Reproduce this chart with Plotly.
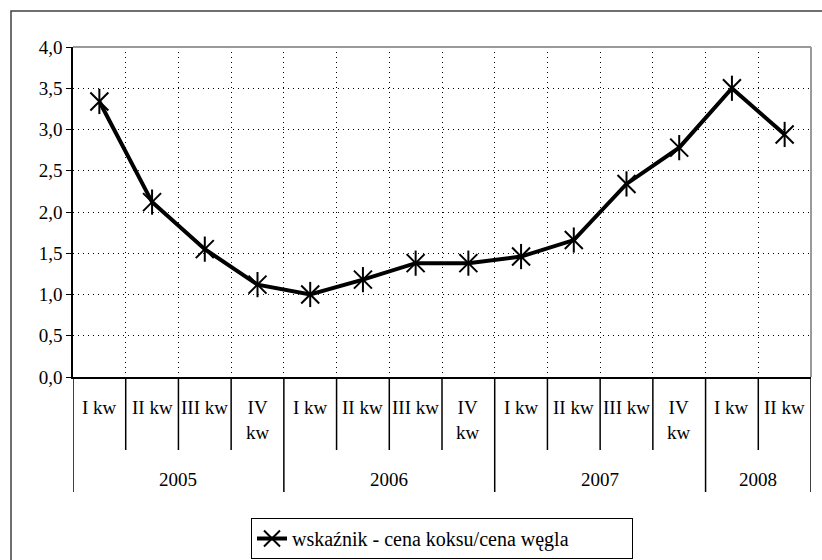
import plotly.graph_objects as go

# dane
years = ["2005", "2006", "2007", "2008"]
quarters_per_year = [4, 4, 4, 2]
quarters = ["I kw", "II kw", "III kw", "IV<br>kw"] * 3 + ["I kw", "II kw"]
values = [3.34, 2.12, 1.55, 1.12, 1.00, 1.18, 1.38, 1.38, 1.46, 1.66, 2.34, 2.78, 3.50, 2.94]
series_name = "wskaźnik - cena koksu/cena węgla"

FONT = "Liberation Serif, serif"
W, H = 822, 560
M_L, M_R, M_T, M_B = 73, 11, 47, 183
PH = H - M_T - M_B  # wysokość obszaru wykresu w px


def py(px_below_axis):
    """Pozycja w jednostkach paper dla piksela poniżej osi X."""
    return -px_below_axis / PH


x = list(range(len(values)))

fig = go.Figure()

fig.add_trace(go.Scatter(
    x=x, y=values,
    mode="lines+markers",
    name=series_name,
    line=dict(color="black", width=4),
    marker=dict(symbol="x-thin-open", size=18, color="black",
                line=dict(color="black", width=2)),
))
# pionowa kreska gwiazdki
fig.add_trace(go.Scatter(
    x=x, y=values,
    mode="markers",
    showlegend=False,
    hoverinfo="skip",
    marker=dict(symbol="line-ns-open", size=18, color="black",
                line=dict(color="black", width=2)),
))

# etykiety kwartałów i linie podziału
for i, q in enumerate(quarters):
    fig.add_annotation(
        x=i, y=py(18), xref="x", yref="paper",
        text=q, showarrow=False, yanchor="top",
        font=dict(family=FONT, size=19, color="black"),
    )

year_bounds = [-0.5]
for n in quarters_per_year:
    year_bounds.append(year_bounds[-1] + n)

for b in [i + 0.5 for i in range(len(values) - 1)]:
    if b in year_bounds:
        continue
    fig.add_shape(type="line", xref="x", yref="paper",
                  x0=b, x1=b, y0=0, y1=py(73),
                  line=dict(color="black", width=1.5))

for b in year_bounds:
    fig.add_shape(type="line", xref="x", yref="paper",
                  x0=b, x1=b, y0=0, y1=py(115),
                  line=dict(color="black", width=1.5))

for k, yr in enumerate(years):
    fig.add_annotation(
        x=(year_bounds[k] + year_bounds[k + 1]) / 2, y=py(103),
        xref="x", yref="paper",
        text=yr, showarrow=False, yanchor="middle",
        font=dict(family=FONT, size=19, color="black"),
    )

# szara ramka obszaru wykresu (góra i prawa strona)
fig.add_shape(type="line", xref="paper", yref="paper",
              x0=0, x1=1, y0=1, y1=1, line=dict(color="#9a9a9a", width=2))
fig.add_shape(type="line", xref="paper", yref="paper",
              x0=1, x1=1, y0=0, y1=1, line=dict(color="#9a9a9a", width=2))

# zewnętrzna ramka całego wykresu (prawa i dolna krawędź poza kadrem)
fig.add_shape(type="rect", xref="paper", yref="paper",
              x0=(11 - M_L) / (W - M_L - M_R), x1=1.05,
              y0=-0.6, y1=1 + (M_T - 11) / PH,
              line=dict(color="#404040", width=1.5))

fig.update_layout(
    width=W, height=H,
    margin=dict(l=M_L, r=M_R, t=M_T, b=M_B, autoexpand=False),
    plot_bgcolor="white",
    paper_bgcolor="white",
    separators=", ",
    font=dict(family=FONT, size=19, color="black"),
    showlegend=True,
    legend=dict(
        orientation="h",
        x=0.5, xanchor="center",
        y=py(141), yanchor="top",
        bordercolor="black", borderwidth=1,
        font=dict(family=FONT, size=20, color="black"),
        bgcolor="white",
        entrywidth=335,
    ),
)

fig.update_xaxes(
    range=[-0.5, len(values) - 0.5],
    tickvals=[i + 0.5 for i in range(len(values) - 1)],
    showticklabels=False,
    ticks="",
    showgrid=True,
    gridcolor="black", gridwidth=1, griddash="1px,4px",
    showline=True, linecolor="black", linewidth=1.5,
    zeroline=False,
)

fig.update_yaxes(
    range=[0, 4],
    dtick=0.5,
    tickformat=".1f",
    ticks="outside", ticklen=5, tickcolor="black", tickwidth=1,
    showgrid=True,
    gridcolor="black", gridwidth=1, griddash="1px,4px",
    showline=True, linecolor="black", linewidth=1.5,
    zeroline=False,
    tickfont=dict(family=FONT, size=19, color="black"),
)

fig.write_html(
    "out.html",
    config={"displayModeBar": False},
    post_script="document.body.style.margin='0';",
)
